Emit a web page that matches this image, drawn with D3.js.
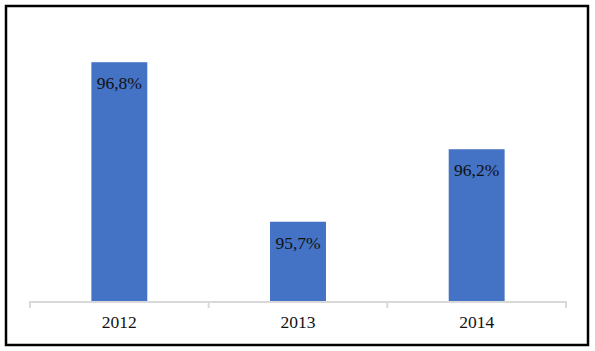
<!DOCTYPE html>
<html>
<head>
<meta charset="utf-8">
<script src="https://cdn.jsdelivr.net/npm/d3@7"></script>
<style>
  body { margin: 0; background: #fff; }
  svg { display: block; }
</style>
</head>
<body>
<svg id="chart" width="595" height="351"></svg>
<script>
const years = ["2012", "2013", "2014"];
const values = [96.8, 95.7, 96.2];
const labels = ["96,8%", "95,7%", "96,2%"];

const svg = d3.select("#chart");
const width = 595, height = 351;

// outer frame
svg.append("rect")
    .attr("x", 6).attr("y", 6)
    .attr("width", 582).attr("height", 339)
    .style("fill", "#fff")
    .style("stroke", "#000")
    .style("stroke-width", 2.5);

const x = d3.scaleBand()
    .domain(years)
    .range([30, 566])
    .paddingInner(0.687)
    .paddingOuter(0.3435);

const y = d3.scaleLinear()
    .domain([95.15, 97.0])
    .range([301.5, 33.2]);

// bars
svg.append("g")
    .selectAll("rect")
    .data(values)
    .join("rect")
    .attr("x", (d, i) => x(years[i]))
    .attr("y", d => y(d))
    .attr("width", x.bandwidth())
    .attr("height", d => y.range()[0] - y(d))
    .style("fill", "#4472C4");

// value labels inside bars
svg.append("g")
    .selectAll("text")
    .data(values)
    .join("text")
    .attr("x", (d, i) => x(years[i]) + x.bandwidth() / 2)
    .attr("y", d => y(d) + 27)
    .attr("text-anchor", "middle")
    .style("font-family", "'Liberation Serif', 'Times New Roman', serif")
    .style("font-size", "17.5px")
    .style("fill", "#111")
    .text((d, i) => labels[i]);

// x axis with ticks at band edges
const axis = svg.append("g");
axis.append("line")
    .attr("x1", x.range()[0]).attr("x2", x.range()[1])
    .attr("y1", 302).attr("y2", 302)
    .style("stroke", "#d9d9d9")
    .style("stroke-width", 2);

const edges = years.map(d => x(d) - x.step() * x.paddingOuter()).concat([x.range()[1]]);
axis.selectAll(".tick")
    .data(edges)
    .join("line")
    .attr("class", "tick")
    .attr("x1", d => d).attr("x2", d => d)
    .attr("y1", 301).attr("y2", 308)
    .style("stroke", "#d9d9d9")
    .style("stroke-width", 2);

axis.selectAll("text")
    .data(years)
    .join("text")
    .attr("x", d => x(d) + x.bandwidth() / 2)
    .attr("y", 328)
    .attr("text-anchor", "middle")
    .style("font-family", "'Liberation Serif', 'Times New Roman', serif")
    .style("font-size", "17.5px")
    .style("fill", "#111")
    .text(d => d);
</script>
</body>
</html>
